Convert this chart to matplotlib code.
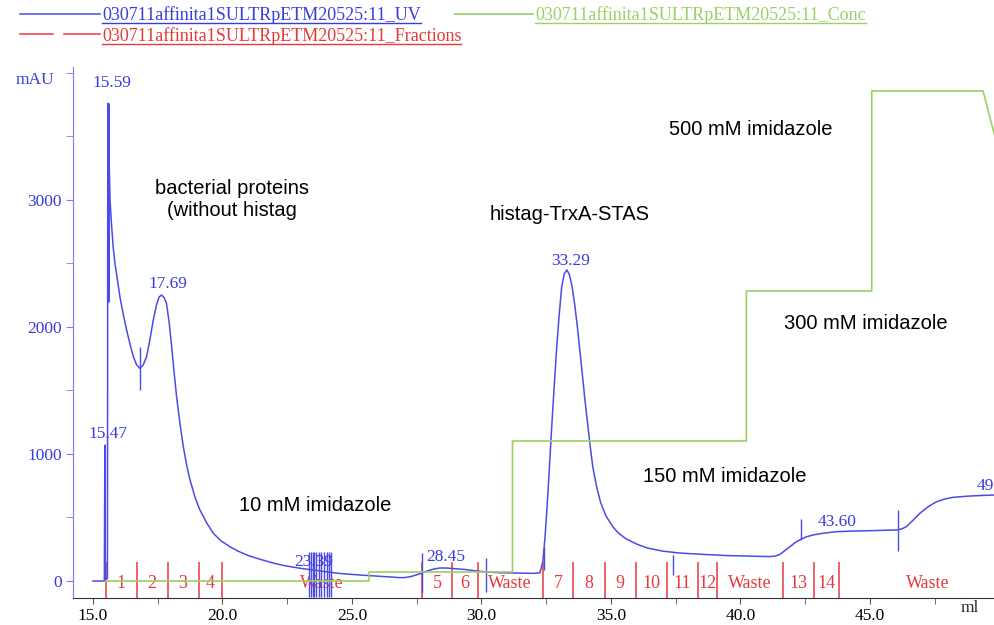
import matplotlib
matplotlib.use("Agg")
import matplotlib.pyplot as plt
from matplotlib.lines import Line2D

# ---------------- data ----------------
uv_ml = [15.0, 15.44, 15.46, 15.48, 15.56, 15.575, 15.60, 15.63, 15.66, 15.72, 15.78, 15.85,
         15.93, 16.04, 16.17, 16.30, 16.43, 16.56, 16.68, 16.81, 16.94, 17.07, 17.20, 17.33,
         17.45, 17.55, 17.65, 17.75, 17.84, 17.94, 18.04, 18.13, 18.23, 18.36, 18.49, 18.62,
         18.75, 18.94, 19.13, 19.4, 19.65, 19.95, 20.29, 20.6, 21.0, 21.5, 21.95, 22.3, 22.7,
         23.1, 23.5, 23.95, 24.4, 24.85, 25.3, 25.7, 26.0, 26.3, 26.6, 26.85, 27.05, 27.3,
         27.6, 27.8, 28.0, 28.2, 28.4, 28.65, 28.9, 29.4, 29.8, 30.2, 30.7, 31.2, 32.0,
         32.26, 32.37, 32.45, 32.51, 32.6, 32.7, 32.8, 32.9, 33.0, 33.1, 33.2, 33.3, 33.4,
         33.5, 33.6, 33.7, 33.8, 33.9, 34.0, 34.1, 34.2, 34.3, 34.45, 34.6, 34.8, 35.08,
         35.3, 35.6, 36.0, 36.4, 37.0, 37.66, 38.5, 39.5, 40.5, 41.14, 41.35, 41.53, 41.72,
         41.91, 42.1, 42.33, 42.55, 42.8, 43.2, 43.71, 44.3, 45.0, 46.07, 46.25, 46.41,
         46.65, 46.93, 47.25, 47.57, 47.9, 48.22, 48.86, 49.4, 49.83, 50.0]
uv_mau = [0, 0, 1070, 10, 20, 3760, 3740, 3250, 3000, 2800, 2632, 2500,
          2394, 2239, 2100, 1976, 1865, 1766, 1705, 1674, 1700, 1766, 1900, 2055,
          2170, 2235, 2252, 2230, 2186, 2040, 1845, 1650, 1451, 1240, 1057, 910,
          795, 660, 559, 455, 375, 315, 270, 235, 200, 168, 142, 125, 110,
          97, 87, 74, 62, 54, 47, 42, 38, 34, 30, 26, 27, 36,
          55, 70, 85, 96, 102, 102, 98, 90, 79, 71, 65, 63, 60,
          65, 150, 330, 506, 800, 1165, 1500, 1819, 2090, 2317, 2420, 2449, 2410,
          2320, 2180, 2010, 1819, 1620, 1420, 1240, 1060, 898, 740, 620, 515, 425,
          375, 330, 290, 260, 235, 220, 210, 200, 195, 192, 196, 210, 240,
          270, 300, 328, 348, 362, 376, 388, 393, 396, 402, 412, 428,
          475, 533, 585, 624, 646, 659, 669, 674, 677, 678]

conc_ml = [15.49, 25.66, 25.66, 31.2, 31.2, 40.23, 40.23, 45.07, 45.07, 49.37, 50.0]
conc_mM = [10, 10, 19, 19, 150, 150, 300, 300, 500, 500, 437]

frac_bounds = [15.49, 16.69, 17.88, 19.08, 20.0, 27.69, 28.87, 29.85, 32.36, 33.55, 34.77,
               35.95, 37.15, 38.37, 39.08, 41.65, 42.85, 43.80, 50.68]
frac_labels = ['1', '2', '3', '4', 'Waste', '5', '6', 'Waste', '7', '8', '9', '10', '11',
               '12', 'Waste', '13', '14', 'Waste']

mark_ml = [15.59, 16.81, 23.35, 23.42, 23.48, 23.55, 23.62, 23.72, 23.82, 23.92, 24.02,
           24.12, 24.2, 27.70, 30.17, 32.41, 37.39, 42.33, 46.07]
mark_lo = [2200, 1504, -130, -130, -130, -130, -130, -130, -130, -130, -130,
           -130, -130, -95, -87, 87, 47, 323, 236]
mark_hi = [3760, 1843, 228, 228, 228, 228, 228, 228, 228, 228, 228,
           228, 228, 220, 181, 268, 205, 488, 559]

peak_text = ['15.59', '17.69', '15.47', '23.39', '28.45', '33.29', '43.60']
peak_x = [15.73, 17.90, 15.58, 23.53, 28.62, 33.46, 43.75]
peak_y = [3921, 2339, 1157, 150, 189, 2520, 468]
edge_peak_text = '49'

notes = ['bacterial proteins\n(without histag', 'histag-TrxA-STAS', '500 mM imidazole',
         '300 mM imidazole', '150 mM imidazole', '10 mM imidazole']
notes_x = [20.37, 33.42, 40.40, 44.85, 39.40, 23.57]
notes_y = [3000, 2882, 3551, 2031, 819, 598]

x_ticks = [15.0, 20.0, 25.0, 30.0, 35.0, 40.0, 45.0]
y_ticks = [0, 1000, 2000, 3000]

legend_names = ['030711affinita1SULTRpETM20525:11_UV',
                '030711affinita1SULTRpETM20525:11_Conc',
                '030711affinita1SULTRpETM20525:11_Fractions']

# ---------------- style ----------------
BLUE = '#4b4be6'
BLUE_TXT = '#3a3ae0'
BLUE_AX = '#7c7cf0'
GREEN = '#9ad064'
RED = '#e8383c'
SERIF = 'Liberation Serif'
SANS = 'Liberation Sans'

W, H = 995, 625
fig = plt.figure(figsize=(W / 100, H / 100), dpi=100)
ax = fig.add_axes([73 / W, 27 / H, 922 / W, 531 / H])
ax.set_xlim(14.23, 49.83)
ax.set_ylim(-134, 4047)

for s in ['top', 'right']:
    ax.spines[s].set_visible(False)
ax.spines['left'].set_color(BLUE_AX)
ax.spines['bottom'].set_color('#333333')

ax.set_xticks(x_ticks)
ax.set_xticklabels([f'{v:.1f}' for v in x_ticks], fontfamily=SERIF, fontsize=12.5)
ax.set_xticks([17.5, 22.5, 27.5, 32.5, 37.5, 42.5, 47.5], minor=True)
ax.tick_params(axis='x', which='both', direction='out', length=4, color='#555555', pad=3)
ax.set_yticks(y_ticks)
ax.set_yticklabels([str(v) for v in y_ticks], fontfamily=SERIF, fontsize=12.5, color=BLUE_TXT)
ax.set_yticks([500, 1500, 2500, 3500, 4000], minor=True)
ax.tick_params(axis='y', which='both', direction='out', length=5, color=BLUE_AX, pad=3)

# concentration on a twin axis
ax2 = ax.twinx()
ax2.set_ylim(-7, 524)
ax2.axis('off')
ax2.plot(conc_ml, conc_mM, color=GREEN, lw=1.2)

# fractions
ax.vlines(frac_bounds, -134, 152, color=RED, lw=1.1, zorder=3)
for i, lab in enumerate(frac_labels):
    xc = (frac_bounds[i] + frac_bounds[i + 1]) / 2
    ax.text(xc, -18, lab, color=RED, fontfamily=SERIF, fontsize=13,
            ha='center', va='center', clip_on=True, zorder=4)

# UV curve
ax.plot(uv_ml, uv_mau, color=BLUE, lw=1.1, zorder=5)
ax.vlines(mark_ml[:1], mark_lo[:1], mark_hi[:1], color=BLUE, lw=2.2, zorder=5)
ax.vlines(mark_ml[1:], mark_lo[1:], mark_hi[1:], color=BLUE, lw=1.0, zorder=5)

for t, x, y in zip(peak_text, peak_x, peak_y):
    ax.text(x, y, t, color=BLUE_TXT, fontfamily=SERIF, fontsize=12.5,
            ha='center', va='center', zorder=6)
fig.text(994 / W, 1 - 486 / H, edge_peak_text, color=BLUE_TXT, fontfamily=SERIF,
         fontsize=12.5, ha='right', va='center')

for t, x, y in zip(notes, notes_x, notes_y):
    ax.text(x, y, t, color='black', fontfamily=SANS, fontsize=14.5,
            ha='center', va='center', linespacing=1.2, zorder=6)

fig.text(35 / W, 1 - 80 / H, 'mAU', color=BLUE_TXT, fontfamily=SERIF, fontsize=12.5,
         ha='center', va='center')
fig.text(970 / W, 1 - 608 / H, 'ml', color='#222222', fontfamily=SERIF, fontsize=12.5,
         ha='center', va='center')

# legend (header)
def fx(px):
    return px / W

def fy(py):
    return 1 - py / H

fig.add_artist(Line2D([fx(20), fx(100)], [fy(14), fy(14)], color=BLUE, lw=1.1))
fig.add_artist(Line2D([fx(455), fx(533)], [fy(14), fy(14)], color=GREEN, lw=1.2))
fig.add_artist(Line2D([fx(20), fx(53)], [fy(34), fy(34)], color=RED, lw=1.1))
fig.add_artist(Line2D([fx(64), fx(100)], [fy(34), fy(34)], color=RED, lw=1.1))
leg_texts = []
for name, col, px, py in zip(legend_names, [BLUE_TXT, GREEN, RED],
                             [102, 535, 102], [15, 15, 36]):
    leg_texts.append((fig.text(fx(px), fy(py), name, color=col, fontfamily=SERIF,
                               fontsize=13, ha='left', va='center'), col))

fig.canvas.draw()
r = fig.canvas.get_renderer()
for t, col in leg_texts:
    bb = t.get_window_extent(renderer=r)
    y = bb.y0 + 1
    fig.add_artist(Line2D([bb.x0 / W, bb.x1 / W], [y / H, y / H], color=col, lw=1.0))

fig.savefig('out.png', dpi=100)
